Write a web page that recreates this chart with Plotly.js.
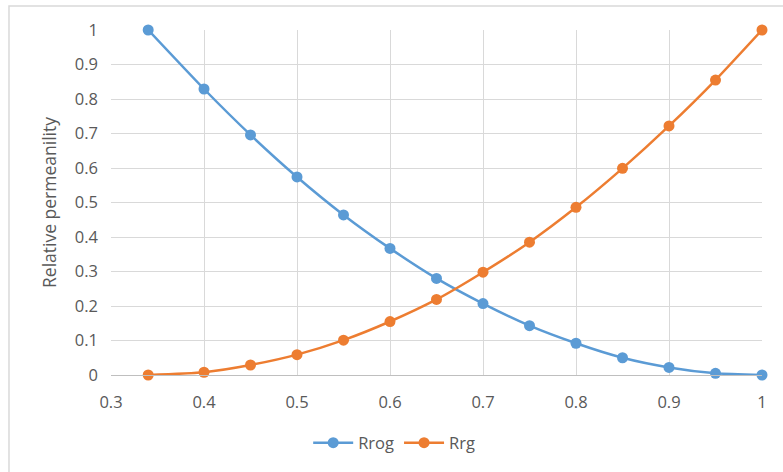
<!DOCTYPE html>
<html>
<head>
<meta charset="utf-8">
<script src="https://cdn.plot.ly/plotly-3.0.1.min.js"></script>
<style>html,body{margin:0;padding:0;background:#fff;}#chart{width:783px;height:472px;}</style>
</head>
<body>
<div id="chart"></div>
<script>
const sg = [0.34, 0.4, 0.45, 0.5, 0.55, 0.6, 0.65, 0.7, 0.75, 0.8, 0.85, 0.9, 0.95, 1.0];
const rrog = [1.0, 0.829, 0.696, 0.574, 0.464, 0.367, 0.280, 0.207, 0.143, 0.092, 0.050, 0.022, 0.005, 0.0];
const rrg = [0.0, 0.008, 0.029, 0.059, 0.101, 0.155, 0.219, 0.298, 0.385, 0.486, 0.599, 0.722, 0.855, 1.0];
const seriesNames = ["Rrog", "Rrg"];
const yTitle = "Relative permeanility";

const font = {family: "Open Sans, Liberation Sans, sans-serif", size: 16.5, color: "#595959"};
const titleFont = {family: "Open Sans, Liberation Sans, sans-serif", size: 17.5, color: "#595959"};

const traces = [
  {x: sg, y: rrog, name: seriesNames[0], type: "scatter", mode: "lines+markers", cliponaxis: false,
   line: {color: "#5B9BD5", width: 2.5, shape: "spline", smoothing: 0.6},
   marker: {color: "#5B9BD5", size: 11}},
  {x: sg, y: rrg, name: seriesNames[1], type: "scatter", mode: "lines+markers", cliponaxis: false,
   line: {color: "#ED7D31", width: 2.5, shape: "spline", smoothing: 0.6},
   marker: {color: "#ED7D31", size: 11}}
];

const layout = {
  width: 783, height: 472,
  margin: {l: 111, r: 21, t: 30, b: 97},
  paper_bgcolor: "#fff", plot_bgcolor: "#fff",
  font: font,
  showlegend: true,
  legend: {orientation: "h", x: 0.435, xanchor: "center", y: -0.197, yanchor: "middle",
           font: font, itemwidth: 40, traceorder: "normal"},
  xaxis: {range: [0.3, 1.0], dtick: 0.1, tick0: 0.3, showgrid: true, gridcolor: "#d9d9d9", gridwidth: 1,
          zeroline: false, showline: true, linecolor: "#bfbfbf", linewidth: 1,
          ticks: "", tickfont: font, fixedrange: true, tickformat: "~g", ticklabelstandoff: 12},
  yaxis: {range: [0, 1.0], dtick: 0.1, showgrid: true, gridcolor: "#d9d9d9", gridwidth: 1,
          zeroline: false, showline: false, ticks: "", tickfont: font, tickformat: "~g", ticklabelstandoff: 12,
          title: {text: yTitle, font: titleFont, standoff: 13}},
  shapes: [
    {type: "rect", xref: "paper", yref: "paper", x0: -0.1567, x1: 1.1, y0: -0.4, y1: 1.0696,
     line: {color: "#d9d9d9", width: 1.5}, fillcolor: "rgba(0,0,0,0)", layer: "below"}
  ]
};

Plotly.newPlot("chart", traces, layout, {displayModeBar: false, staticPlot: true});
</script>
</body>
</html>
